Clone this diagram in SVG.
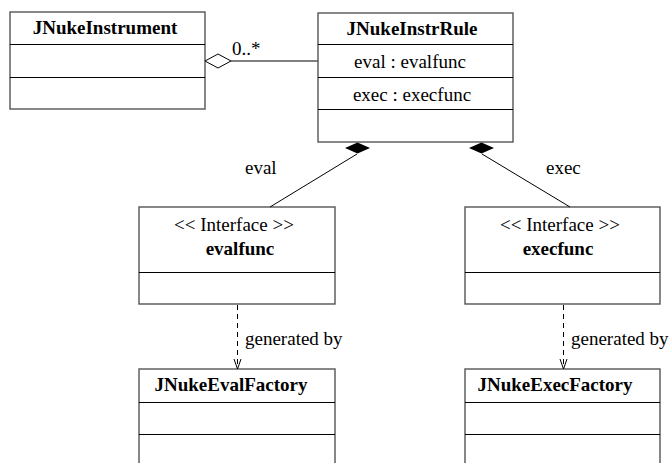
<svg xmlns="http://www.w3.org/2000/svg" width="670" height="463" viewBox="0 0 670 463">
  <style>
    .box { fill: #fff; stroke: #555; stroke-width: 1.4; }
    .sep { stroke: #000; stroke-width: 1; }
    .t { font-family: "Liberation Serif", "Times New Roman", serif; font-size: 19px; fill: #000; }
    .b { font-weight: bold; }
    .m { text-anchor: middle; }
    .link { stroke: #000; stroke-width: 1; fill: none; }
    .dash { stroke: #000; stroke-width: 1; fill: none; stroke-dasharray: 5 4; }
  </style>
  <rect width="670" height="463" fill="#fff"/>

  <g id="JNukeInstrument">
    <rect class="box" x="10" y="12" width="195" height="97"/>
    <line class="sep" x1="10" y1="44.5" x2="205" y2="44.5"/>
    <line class="sep" x1="10" y1="77.5" x2="205" y2="77.5"/>
    <text class="t b m" x="105" y="34">JNukeInstrument</text>
  </g>

  <g id="JNukeInstrRule">
    <rect class="box" x="318" y="13" width="195" height="129"/>
    <line class="sep" x1="318" y1="44.5" x2="513" y2="44.5"/>
    <line class="sep" x1="318" y1="77.5" x2="513" y2="77.5"/>
    <line class="sep" x1="318" y1="109.5" x2="513" y2="109.5"/>
    <text class="t b m" x="412" y="35">JNukeInstrRule</text>
    <text class="t m" x="410" y="68">eval : evalfunc</text>
    <text class="t m" x="412" y="101">exec : execfunc</text>
  </g>

  <g id="evalfunc">
    <rect class="box" x="139" y="207" width="196" height="97"/>
    <line class="sep" x1="139" y1="272.5" x2="335" y2="272.5"/>
    <text class="t m" x="234" y="231">&lt;&lt; Interface &gt;&gt;</text>
    <text class="t b m" x="240" y="255">evalfunc</text>
  </g>

  <g id="execfunc">
    <rect class="box" x="465" y="207" width="195" height="97"/>
    <line class="sep" x1="465" y1="272.5" x2="660" y2="272.5"/>
    <text class="t m" x="560" y="231">&lt;&lt; Interface &gt;&gt;</text>
    <text class="t b m" x="558" y="255">execfunc</text>
  </g>

  <g id="JNukeEvalFactory">
    <rect class="box" x="139" y="369" width="196" height="100"/>
    <line class="sep" x1="139" y1="402.5" x2="335" y2="402.5"/>
    <line class="sep" x1="139" y1="434.5" x2="335" y2="434.5"/>
    <text class="t b m" x="231" y="391">JNukeEvalFactory</text>
  </g>

  <g id="JNukeExecFactory">
    <rect class="box" x="465" y="369" width="195" height="100"/>
    <line class="sep" x1="465" y1="402.5" x2="660" y2="402.5"/>
    <line class="sep" x1="465" y1="434.5" x2="660" y2="434.5"/>
    <text class="t b m" x="555" y="391">JNukeExecFactory</text>
  </g>

  <g id="connectors">
    <!-- aggregation: JNukeInstrument <>- JNukeInstrRule -->
    <line x1="231" y1="61" x2="318" y2="61" stroke="#555" stroke-width="1.4"/>
    <polygon points="205,61 218,54 231,61 218,68" fill="#fff" stroke="#000" stroke-width="1"/>
    <text class="t" x="232" y="55">0..*</text>

    <!-- compositions from JNukeInstrRule -->
    <line class="link" x1="357" y1="154" x2="270" y2="207"/>
    <polygon points="345,148 357.5,142.5 370,148 357.5,153.5" fill="#000"/>
    <text class="t" x="245" y="174">eval</text>

    <line class="link" x1="482" y1="154" x2="570" y2="207"/>
    <polygon points="469,148 481.5,142.5 494,148 481.5,153.5" fill="#000"/>
    <text class="t" x="546" y="174">exec</text>

    <!-- dependencies: generated by -->
    <line class="dash" x1="237.5" y1="305" x2="237.5" y2="368"/>
    <polyline class="link" points="234,359 237.5,369 241,359"/>
    <text class="t" x="245" y="345">generated by</text>

    <line class="dash" x1="563.5" y1="305" x2="563.5" y2="368"/>
    <polyline class="link" points="560,359 563.5,369 567,359"/>
    <text class="t" x="571" y="345">generated by</text>
  </g>
</svg>
